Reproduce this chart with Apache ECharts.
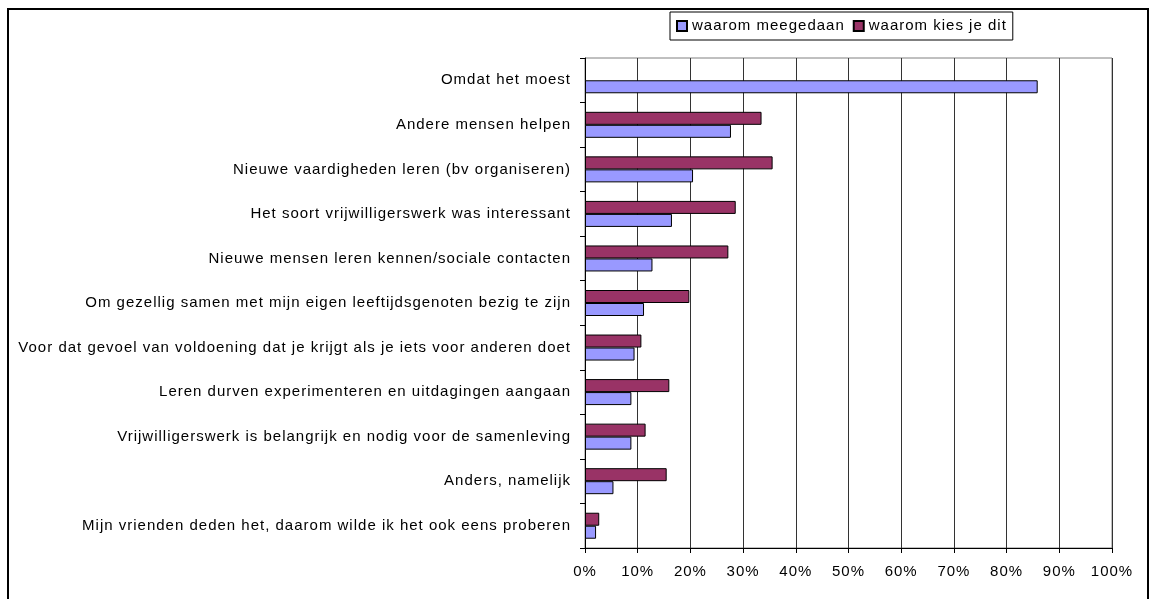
<!DOCTYPE html>
<html>
<head>
  <meta charset="utf-8" />
  <title>waarom meegedaan</title>
  <style>
    html, body { margin: 0; padding: 0; background: #fff; }
    #main { width: 1151px; height: 599px; }
  </style>
</head>
<body>
  <div id="main"></div>
  <script src="https://cdn.jsdelivr.net/npm/echarts@6/dist/echarts.min.js"></script>
  <script>
    var categories = [
      'Omdat het moest',
      'Andere mensen helpen',
      'Nieuwe vaardigheden leren (bv organiseren)',
      'Het soort vrijwilligerswerk was interessant',
      'Nieuwe mensen leren kennen/sociale contacten',
      'Om gezellig samen met mijn eigen leeftijdsgenoten bezig te zijn',
      'Voor dat gevoel van voldoening dat je krijgt als je iets voor anderen doet',
      'Leren durven experimenteren en uitdagingen aangaan',
      'Vrijwilligerswerk is belangrijk en nodig voor de samenleving',
      'Anders, namelijk',
      'Mijn vrienden deden het, daarom wilde ik het ook eens proberen'
    ];
    var meegedaan = [85.9, 27.7, 20.5, 16.5, 12.8, 11.2, 9.4, 8.8, 8.8, 5.4, 2.1];
    var kiesJeDit = [null, 33.5, 35.6, 28.6, 27.2, 19.8, 10.7, 16.0, 11.5, 15.5, 2.7];

    // the original (Excel) text is set a little wider, add 1px letter spacing
    var fontDesc = Object.getOwnPropertyDescriptor(CanvasRenderingContext2D.prototype, 'font');
    Object.defineProperty(CanvasRenderingContext2D.prototype, 'font', {
      configurable: true,
      get: fontDesc.get,
      set: function (v) {
        fontDesc.set.call(this, v);
        this.letterSpacing = '1px';
      }
    });

    var font = "'Liberation Sans', Arial, sans-serif";
    var chart = echarts.init(document.getElementById('main'));

    chart.setOption({
      animation: false,
      textStyle: { fontFamily: font },
      graphic: [{
        type: 'rect',
        shape: { x: 8, y: 9, width: 1140, height: 700 },
        style: { fill: 'none', stroke: '#000', lineWidth: 2 }
      }],
      legend: {
        left: 670,
        top: 12,
        padding: [6, 6],
        itemGap: 8,
        itemWidth: 10,
        itemHeight: 10,
        icon: 'rect',
        borderColor: '#000',
        borderWidth: 1,
        textStyle: { fontSize: 15, color: '#000', fontFamily: font },
        data: ['waarom meegedaan', 'waarom kies je dit']
      },
      grid: {
        left: 585,
        right: 39,
        top: 58,
        bottom: 51,
        show: true,
        borderColor: '#808080',
        borderWidth: 1
      },
      xAxis: {
        type: 'value',
        min: 0,
        max: 100,
        interval: 10,
        axisLine: { show: true, lineStyle: { color: '#000' } },
        axisTick: { show: true, length: 5, lineStyle: { color: '#000' } },
        axisLabel: { formatter: '{value}%', fontSize: 15, color: '#000', margin: 16 },
        splitLine: { show: true, lineStyle: { color: '#333', width: 1 } }
      },
      yAxis: {
        type: 'category',
        inverse: true,
        data: categories,
        axisLine: { show: true, lineStyle: { color: '#000' } },
        axisTick: { show: true, length: 5, lineStyle: { color: '#000' } },
        axisLabel: { fontSize: 15, color: '#000', margin: 14 }
      },
      series: [
        {
          name: 'waarom kies je dit',
          type: 'bar',
          data: kiesJeDit,
          barWidth: 13,
          barGap: '0%',
          itemStyle: { color: '#993366', borderColor: '#000', borderWidth: 1 }
        },
        {
          name: 'waarom meegedaan',
          type: 'bar',
          data: meegedaan,
          barWidth: 13,
          itemStyle: { color: '#9999FF', borderColor: '#000', borderWidth: 1 }
        }
      ]
    });
  </script>
</body>
</html>
